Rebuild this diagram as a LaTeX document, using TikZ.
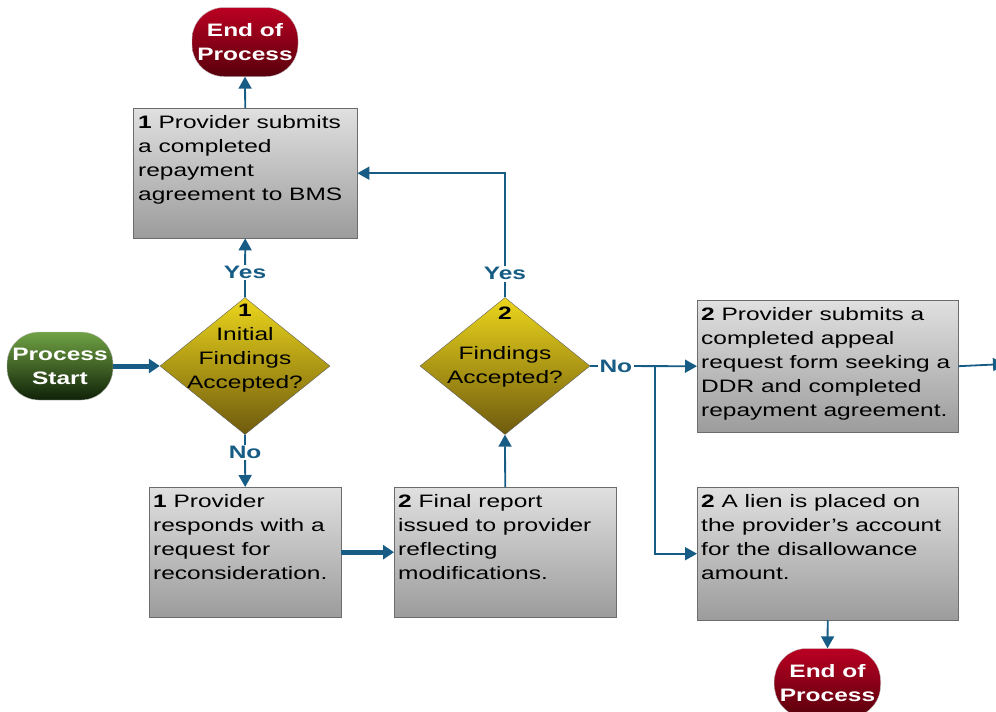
\documentclass[tikz,border=0pt]{standalone}
\usepackage{fontspec}
\setmainfont[FakeStretch=1.36]{Liberation Sans}
\usetikzlibrary{shapes.geometric, arrows.meta, positioning, calc}

\definecolor{flowblue}{RGB}{22, 92, 132}
\definecolor{boxtop}{RGB}{224, 224, 224}
\definecolor{boxbot}{RGB}{156, 156, 156}
\definecolor{goldtop}{RGB}{236, 214, 28}
\definecolor{goldbot}{RGB}{110, 90, 14}
\definecolor{greentop}{RGB}{112, 162, 68}
\definecolor{greenbot}{RGB}{16, 34, 8}
\definecolor{redtop}{RGB}{186, 0, 34}
\definecolor{redbot}{RGB}{88, 0, 12}

\tikzset{
  stepbox/.style={draw=gray!85!black, top color=boxtop, bottom color=boxbot,
    anchor=north west, inner sep=0pt},
  steptext/.style={align=left, inner sep=0pt},
  decision/.style={diamond, draw=gray!75!black, top color=goldtop, bottom color=goldbot,
    minimum width=170pt, minimum height=137pt, inner sep=0pt},
  terminal/.style={rounded corners=32pt, draw=gray!50, text=white,
    font=\fontsize{18}{24}\selectfont\bfseries,
    align=center, minimum width=106pt, minimum height=69pt},
  link/.style={flowblue, line width=1.8pt, -{Triangle[length=12pt, width=13pt]}},
  biglink/.style={flowblue, line width=5pt, -{Triangle[length=11pt, width=14pt]}},
  answer/.style={text=flowblue, font=\fontsize{18}{24}\selectfont\bfseries,
    fill=white, inner sep=1.5pt}
}

\begin{document}
\begin{tikzpicture}[x=1pt, y=-1pt, font=\fontsize{18}{24}\selectfont]
  \useasboundingbox (0,0) rectangle (996,712);

  % Terminals
  \node[terminal, top color=redtop, bottom color=redbot] (endtop) at (245,42) {End of\\Process};
  \node[terminal, top color=greentop, bottom color=greenbot, minimum height=68pt] (start) at (60,366) {Process\\Start};
  \node[terminal, top color=redtop, bottom color=redbot] (endbot) at (827.5,683) {End of\\Process};

  % Decisions
  \node[decision] (d1) at (245,366) {};
  \node[align=center, inner sep=0pt] (d1txt) at (245,348) {\textbf{1}\\Initial\\Findings\\Accepted?};
  \node[decision] (d2) at (505,366) {};
  \node[align=center, inner sep=0pt] (d2txt) at (505,347) {\textbf{2}\\[16pt]Findings\\Accepted?};

  % Steps
  \node[stepbox, minimum width=224pt, minimum height=130pt] (b1) at (133,108) {};
  \node[steptext, below right=7pt and 5pt of b1.north west] (b1txt)
    {\textbf{1} Provider submits\\a completed\\repayment\\agreement to BMS};

  \node[stepbox, minimum width=192pt, minimum height=130pt] (b2) at (149,487) {};
  \node[steptext, below right=7pt and 4pt of b2.north west] (b2txt)
    {\textbf{1} Provider\\responds with a\\request for\\reconsideration.};

  \node[stepbox, minimum width=222pt, minimum height=130pt] (b3) at (394,487) {};
  \node[steptext, below right=7pt and 4pt of b3.north west] (b3txt)
    {\textbf{2} Final report\\issued to provider\\reflecting\\modifications.};

  \node[stepbox, minimum width=261pt, minimum height=132pt] (b4) at (697,300) {};
  \node[steptext, below right=7pt and 4pt of b4.north west] (b4txt)
    {\textbf{2} Provider submits a\\completed appeal\\request form seeking a\\DDR and completed\\repayment agreement.};

  \node[stepbox, minimum width=261pt, minimum height=133pt] (b5) at (697,487) {};
  \node[steptext, below right=7pt and 4pt of b5.north west] (b5txt)
    {\textbf{2} A lien is placed on\\the provider’s account\\for the disallowance\\amount.};

  \coordinate (split) at (655,366);
  \coordinate (offpage) at (1005,364);

  % Connectors
  \draw[biglink] (start) -- (d1.west);
  \draw[link] (d1.north) -- node[answer, pos=0.42] {Yes} (b1.south);
  \draw[link] (b1.north) -- (endtop.south);
  \draw[link] (d1.south) -- node[answer, pos=0.34] {No} (b2.north);
  \draw[biglink] (b2.east) -- (b3.west);
  \draw[link] (b3.north) -- (d2.south);
  \draw[link] (d2.north) -- node[answer, pos=0.19] {Yes} (d2.north |- b1.east) -- (b1.east);
  \draw[link] (d2.east) -- node[answer, pos=0.24] {No} (b4.west);
  \draw[link] (split) |- (b5.west);
  \draw[link] (b4.east) -- (offpage);
  \draw[link] (b5.south) -- (endbot.north);
\end{tikzpicture}
\end{document}
